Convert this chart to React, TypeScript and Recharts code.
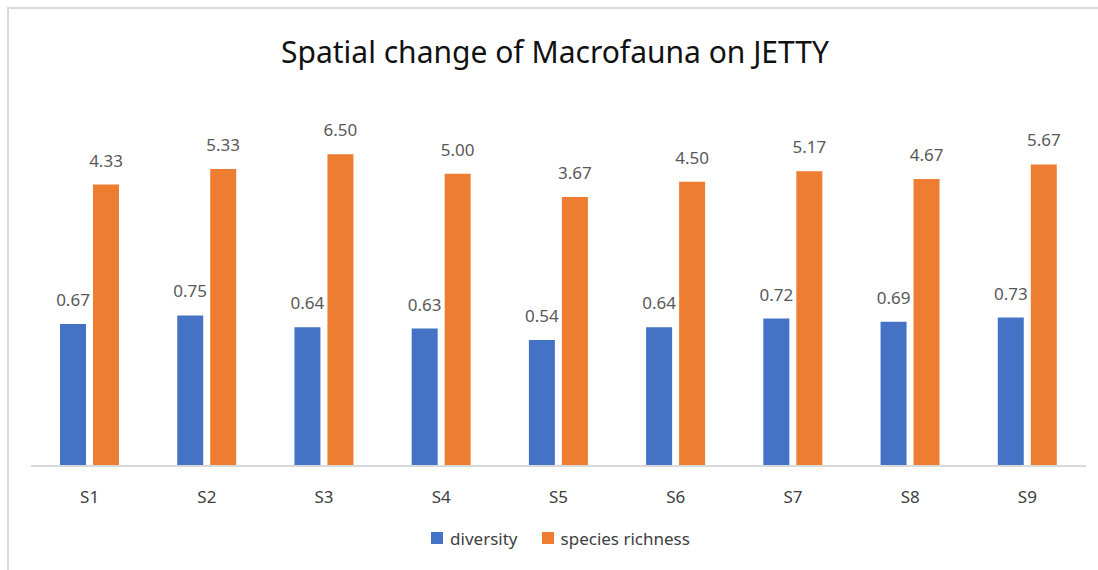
import React from 'react'
import { Bar, BarChart, LabelList, Legend, XAxis, YAxis } from 'recharts'

const sites = ['S1', 'S2', 'S3', 'S4', 'S5', 'S6', 'S7', 'S8', 'S9']
const diversity = [0.67, 0.75, 0.64, 0.63, 0.54, 0.64, 0.72, 0.69, 0.73]
const richness = [4.33, 5.33, 6.5, 5.0, 3.67, 4.5, 5.17, 4.67, 5.67]

const data = sites.map((site, i) => ({
  site,
  diversity: diversity[i],
  richness: richness[i],
}))

const FONT = '"Noto Sans", "Open Sans", sans-serif'
const BLUE = '#4472C4'
const ORANGE = '#ED7D31'

const fmt = (v: any) => Number(v).toFixed(2)

const LegendBox = () => (
  <div
    style={{
      display: 'flex',
      justifyContent: 'center',
      alignItems: 'center',
      height: 24,
      fontFamily: FONT,
      fontSize: 17,
      color: '#404040',
      paddingLeft: 4,
    }}
  >
    <span style={{ width: 12, height: 12, background: BLUE, marginRight: 7 }} />
    <span style={{ marginRight: 24 }}>diversity</span>
    <span style={{ width: 12, height: 12, background: ORANGE, marginRight: 7 }} />
    <span>species richness</span>
  </div>
)

const App = () => {
  return (
    <div style={{ position: 'relative', width: 1098, height: 570, overflow: 'hidden', background: '#fff' }}>
      <style>{'body{margin:0}'}</style>
      <div
        style={{
          position: 'absolute',
          left: 7,
          top: 7,
          width: 1100,
          height: 570,
          borderTop: '2px solid #d9d9d9',
          borderLeft: '2px solid #d9d9d9',
          pointerEvents: 'none',
        }}
      />
      <div
        style={{
          position: 'absolute',
          left: 0,
          top: 37,
          width: 1110,
          textAlign: 'center',
          fontFamily: FONT,
          fontSize: 30,
          lineHeight: '30px',
          color: '#111',
        }}
      >
        Spatial change of Macrofauna on JETTY
      </div>
      <BarChart
        width={1098}
        height={570}
        data={data}
        barSize={26}
        barGap={7}
        margin={{ top: 122, right: 12, left: 31, bottom: 20 }}
      >
        <XAxis
          dataKey="site"
          height={60}
          tickLine={false}
          tickSize={0}
          tickMargin={25}
          axisLine={{ stroke: '#d9d9d9', strokeWidth: 2 }}
          tick={{ fill: '#404040', fontSize: 17, fontFamily: FONT }}
        />
        <YAxis hide scale="log" domain={[0.1, 10]} allowDataOverflow />
        <Legend verticalAlign="bottom" content={() => <LegendBox />} />
        <Bar dataKey="diversity" name="diversity" fill={BLUE} isAnimationActive={false}>
          <LabelList
            dataKey="diversity"
            position="top"
            offset={18}
            formatter={fmt}
            style={{ fill: '#595959', fontSize: 17, fontFamily: FONT }}
          />
        </Bar>
        <Bar dataKey="richness" name="species richness" fill={ORANGE} isAnimationActive={false}>
          <LabelList
            dataKey="richness"
            position="top"
            offset={18}
            formatter={fmt}
            style={{ fill: '#595959', fontSize: 17, fontFamily: FONT }}
          />
        </Bar>
      </BarChart>
    </div>
  )
}

export default App
